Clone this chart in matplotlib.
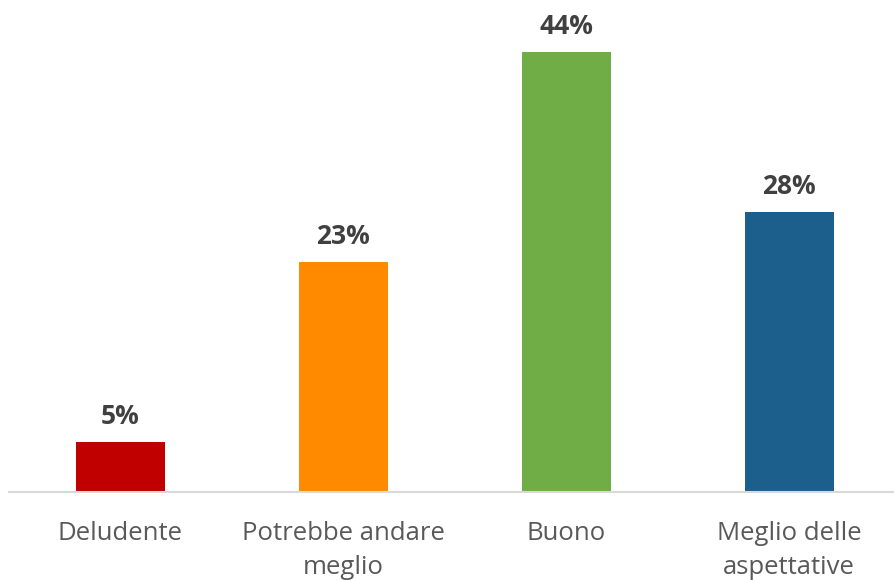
import matplotlib.pyplot as plt

categories = ["Deludente", "Potrebbe andare\nmeglio", "Buono", "Meglio delle\naspettative"]
values = [5, 23, 44, 28]
colors = ["#C00000", "#FF8A00", "#70AD47", "#1C5E8C"]

plt.rcParams['font.family'] = ['Open Sans', 'DejaVu Sans']

fig = plt.figure(figsize=(8.95, 5.8), dpi=100)
ax = fig.add_axes([9 / 895, 88 / 580, 886 / 895, 492 / 580])

x = range(len(categories))
bars = ax.bar(x, values, width=0.4, color=colors)

for xi, v in zip(x, values):
    ax.annotate(f"{v}%", (xi, v), xytext=(0, 9), textcoords="offset points",
                ha="center", va="bottom", fontsize=19, fontweight="bold",
                color="#404040", annotation_clip=False)

ax.set_xlim(-0.5, 3.475)
ax.set_ylim(0, 49.2)
ax.set_xticks(list(x))
ax.set_xticklabels(categories, fontsize=18.5, color="#595959", linespacing=1.45)
ax.tick_params(axis="x", length=0, pad=21)
ax.set_yticks([])
for s in ["top", "right", "left"]:
    ax.spines[s].set_visible(False)
ax.spines["bottom"].set_color("#D9D9D9")
ax.spines["bottom"].set_linewidth(1.5)

plt.savefig("out.png", dpi=100)
